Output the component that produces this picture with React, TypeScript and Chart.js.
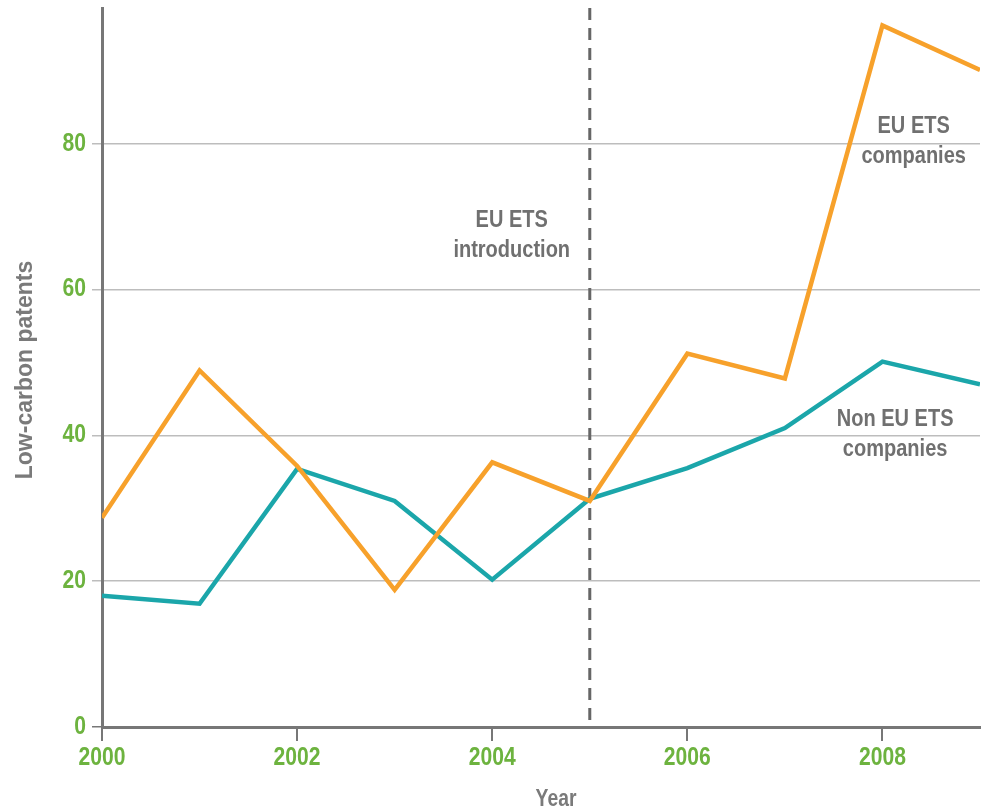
import React, { useEffect, useRef } from "react";
import { Chart, registerables } from "chart.js";

Chart.register(...registerables);

const years = [2000, 2001, 2002, 2003, 2004, 2005, 2006, 2007, 2008, 2009];
const euEts = [28.7, 48.9, 35.8, 18.8, 36.3, 31.0, 51.2, 47.8, 96.2, 90.1];
const nonEuEts = [18.0, 16.9, 35.4, 31.0, 20.2, 31.3, 35.5, 41.0, 50.1, 47.0];
const yTicks = [0, 20, 40, 60, 80];
const xTicks = [2000, 2002, 2004, 2006, 2008];
const introYear = 2005;
const annotations = [
  { lines: ["EU ETS", "introduction"], x: 2004.2, y: 69.5 },
  { lines: ["EU ETS", "companies"], x: 2008.32, y: 82.3 },
  { lines: ["Non EU ETS", "companies"], x: 2008.13, y: 42.2 },
];

const GREEN = "#6db33f";
const GREY = "#707070";
const FONT = "'Liberation Sans', Arial, sans-serif";

function squeezedText(ctx: CanvasRenderingContext2D, text: string, x: number, y: number, sx: number) {
  ctx.save();
  ctx.translate(x, y);
  ctx.scale(sx, 1);
  ctx.fillText(text, 0, 0);
  ctx.restore();
}

export default function App() {
  const ref = useRef<HTMLCanvasElement | null>(null);

  useEffect(() => {
    if (!ref.current) return;
    const overlay = {
      id: "overlay",
      beforeDatasetsDraw(chart: any) {
        const { ctx, chartArea, scales } = chart;
        const x = scales.x.getPixelForValue(introYear);
        ctx.save();
        ctx.strokeStyle = "#666";
        ctx.lineWidth = 3;
        ctx.setLineDash([12, 8]);
        ctx.beginPath();
        ctx.moveTo(x, chartArea.top);
        ctx.lineTo(x, chartArea.bottom);
        ctx.stroke();
        ctx.restore();
      },
      afterDraw(chart: any) {
        const { ctx, scales, chartArea } = chart;
        ctx.save();
        ctx.textBaseline = "middle";
        // tick labels
        ctx.fillStyle = GREEN;
        ctx.font = `bold 25px ${FONT}`;
        ctx.textAlign = "center";
        for (const v of xTicks) {
          squeezedText(ctx, String(v), scales.x.getPixelForValue(v), chartArea.bottom + 31, 0.845);
        }
        ctx.textAlign = "right";
        for (const v of yTicks) {
          squeezedText(ctx, String(v), chartArea.left - 16, scales.y.getPixelForValue(v), 0.845);
        }
        // annotations
        ctx.fillStyle = GREY;
        ctx.textAlign = "center";
        ctx.font = `bold 23px ${FONT}`;
        for (const a of annotations) {
          const px = scales.x.getPixelForValue(a.x);
          const py = scales.y.getPixelForValue(a.y);
          a.lines.forEach((l, i) => squeezedText(ctx, l, px, py + i * 30, 0.87));
        }
        // axis titles
        ctx.fillStyle = "#7a7a7a";
        ctx.font = `bold 23px ${FONT}`;
        squeezedText(ctx, "Year", 556, 800, 0.84);
        ctx.translate(26, 370);
        ctx.rotate(-Math.PI / 2);
        ctx.font = `bold 23px ${FONT}`;
        ctx.fillText("Low-carbon patents", 0, 0);
        ctx.restore();
      },
    };

    const chart = new Chart(ref.current, {
      type: "line",
      data: {
        datasets: [
          {
            label: "EU ETS companies",
            data: years.map((y, i) => ({ x: y, y: euEts[i] })),
            borderColor: "#f7a12b",
            borderWidth: 4.5,
            pointRadius: 0,
            tension: 0,
            borderJoinStyle: "miter",
          },
          {
            label: "Non EU ETS companies",
            data: years.map((y, i) => ({ x: y, y: nonEuEts[i] })),
            borderColor: "#1ba6aa",
            borderWidth: 4.5,
            pointRadius: 0,
            tension: 0,
            borderJoinStyle: "miter",
          },
        ],
      },
      options: {
        animation: false,
        responsive: false,
        devicePixelRatio: 1,
        layout: { padding: { top: 8, right: 2, left: 0, bottom: 0 } },
        plugins: { legend: { display: false }, tooltip: { enabled: false } },
        scales: {
          x: {
            type: "linear",
            min: 2000,
            max: 2009,
            afterFit: (s: any) => {
              s.height = 82;
            },
            afterBuildTicks: (s: any) => {
              s.ticks = xTicks.map((v) => ({ value: v }));
            },
            border: { display: true, color: "#777", width: 3 },
            grid: {
              drawOnChartArea: false,
              drawTicks: true,
              tickLength: 14,
              color: "#777",
              lineWidth: 2,
            },
            ticks: { display: false },
          },
          y: {
            min: 0,
            max: 98.6,
            afterFit: (s: any) => {
              s.width = 102;
            },
            afterBuildTicks: (s: any) => {
              s.ticks = yTicks.map((v) => ({ value: v }));
            },
            border: { display: true, color: "#777", width: 3 },
            grid: {
              drawTicks: true,
              tickLength: 10,
              color: (c: any) => (c.tick && c.tick.value === 0 ? "#777" : "#bdbdbd"),
              lineWidth: 1.5,
            },
            ticks: { display: false },
          },
        },
      },
      plugins: [overlay],
    } as any);
    return () => chart.destroy();
  }, []);

  return (
    <div style={{ position: "absolute", left: 0, top: 0, width: 982, height: 809, background: "#fff" }}>
      <canvas ref={ref} width={982} height={809} style={{ width: 982, height: 809, display: "block" }} />
    </div>
  );
}
